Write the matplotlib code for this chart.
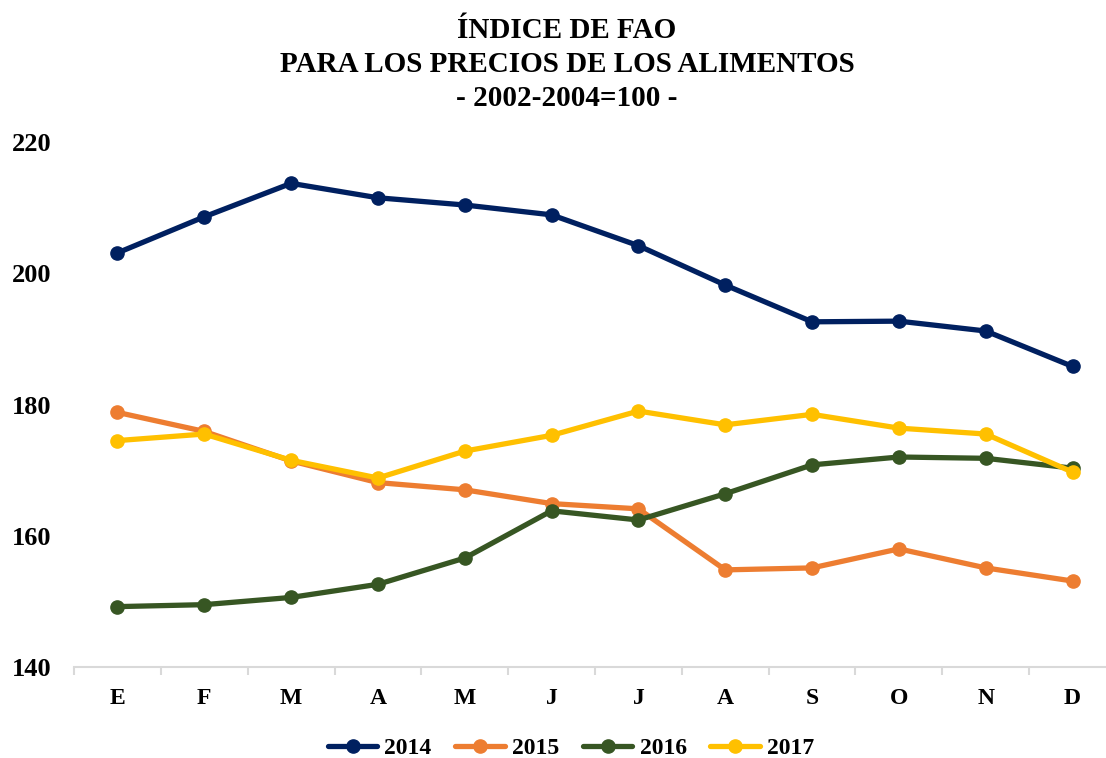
import matplotlib
matplotlib.use("Agg")
import matplotlib.pyplot as plt
from matplotlib.ticker import FixedLocator

plt.rcParams['font.family'] = ['Liberation Serif', 'DejaVu Serif']
plt.rcParams['font.weight'] = 'bold'

months = ['E', 'F', 'M', 'A', 'M', 'J', 'J', 'A', 'S', 'O', 'N', 'D']
s2014 = [203.1, 208.6, 213.7, 211.5, 210.4, 208.9, 204.2, 198.2, 192.6, 192.7, 191.2, 185.8]
s2015 = [178.8, 175.9, 171.4, 168.1, 167.0, 164.9, 164.1, 154.8, 155.1, 158.0, 155.1, 153.1]
s2016 = [149.2, 149.5, 150.6, 152.6, 156.6, 163.8, 162.4, 166.4, 170.8, 172.0, 171.8, 170.3]
s2017 = [174.5, 175.5, 171.5, 168.8, 172.9, 175.3, 179.0, 176.9, 178.5, 176.4, 175.5, 169.7]
series = {'2014': s2014, '2015': s2015, '2016': s2016, '2017': s2017}
colors = {'2014': '#002060', '2015': '#ED7D31', '2016': '#375623', '2017': '#FFC000'}
title_lines = ['ÍNDICE DE FAO', 'PARA LOS PRECIOS DE LOS ALIMENTOS', '- 2002-2004=100 -']
yticks = [140, 160, 180, 200, 220]

W, H = 1106, 758
fig = plt.figure(figsize=(W / 100, H / 100), dpi=100)
left, right, bottom, top = 74, 1116, 667, 142
ax = fig.add_axes([left / W, 1 - bottom / H, (right - left) / W, (bottom - top) / H])

x = list(range(len(months)))
for name, vals in series.items():
    ax.plot(x, vals, color=colors[name], lw=3.8, marker='o', ms=9.5,
            solid_capstyle='round', label=name, clip_on=False)

ax.set_xlim(-0.5, len(months) - 0.5)
ax.set_ylim(140, 220)
ax.set_yticks(yticks)
ax.set_yticklabels([str(v) for v in yticks])
ax.set_xticks(x)
ax.set_xticklabels(months)
ax.xaxis.set_minor_locator(FixedLocator([i - 0.5 for i in range(len(months) + 1)]))

for sp in ['top', 'right', 'left']:
    ax.spines[sp].set_visible(False)
ax.spines['bottom'].set_color('#D9D9D9')
ax.spines['bottom'].set_linewidth(1.5)
ax.tick_params(axis='x', which='major', length=0, pad=15, labelsize=17)
ax.tick_params(axis='x', which='minor', length=6, width=1.5, color='#D9D9D9', direction='out')
ax.tick_params(axis='y', length=0, pad=16, labelsize=19)
for lab in ax.get_xticklabels() + ax.get_yticklabels():
    lab.set_fontweight('bold')

ys = [30, 65, 98]
for t, yy in zip(title_lines, ys):
    fig.text(567 / W, 1 - yy / H, t, ha='center', va='center', fontsize=21, fontweight='bold')

leg = fig.legend(loc='center', bbox_to_anchor=(571 / W, 1 - 748 / H), ncol=4, frameon=False,
                 handlelength=2.1, columnspacing=1.0, handletextpad=0.3,
                 prop={'weight': 'bold', 'size': 17})

fig.savefig('out.png', dpi=100)
